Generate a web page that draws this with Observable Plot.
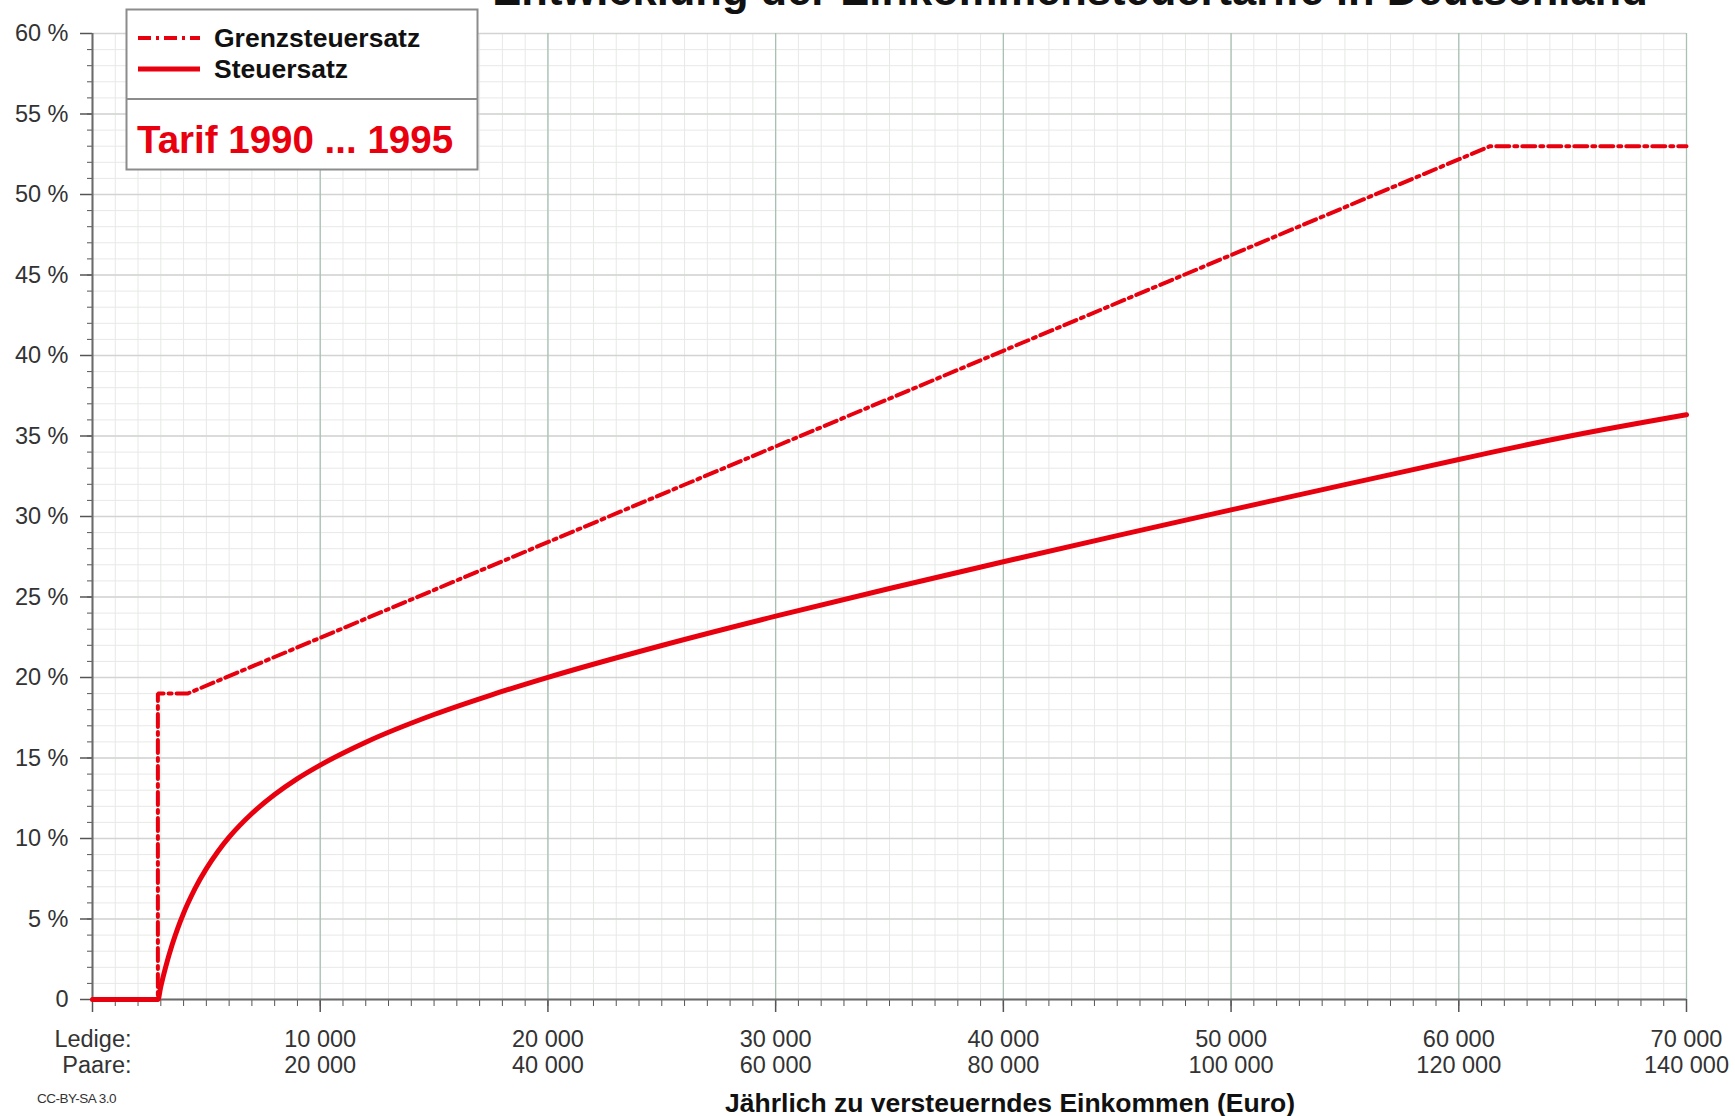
<!DOCTYPE html>
<html>
<head>
<meta charset="utf-8">
<script src="https://cdn.jsdelivr.net/npm/d3@7"></script>
<script src="https://cdn.jsdelivr.net/npm/@observablehq/plot@0.6"></script>
<style>
  html, body { margin: 0; padding: 0; background: #fff; overflow: hidden; }
  #wrap { position: relative; width: 1735px; height: 1116px; font-family: "Liberation Sans", Arial, sans-serif; }
  #wrap > svg.plot { position: absolute; left: 0; top: 0; }
  .ov { position: absolute; white-space: nowrap; }
</style>
</head>
<body>
<div id="wrap"></div>
<script>
// ---- Data (Euro, percent) ----
const titleText = "Entwicklung der Einkommensteuertarife in Deutschland";
const seriesNames = ["Grenzsteuersatz", "Steuersatz"];
const tarifLabel = "Tarif 1990 ... 1995";
const xAxisLabel = "Jährlich zu versteuerndes Einkommen (Euro)";
const zeroTickLabel = "Ledige:\nPaare:";

// Grenzsteuersatz (marginal rate)
const margIncome = [0, 2871, 2871, 4169, 61376, 70000];
const margRate   = [0, 0, 19, 19, 53, 53];

// Steuersatz (average rate)
const avgIncome = [0, 2871, 3000, 3200, 3500, 3750, 4000, 4169, 4500, 5000, 5500, 6000, 7000, 8000, 9000, 10000, 12000, 15000, 17500, 20000, 25000, 30000, 35000, 40000, 45000, 50000, 55000, 60000, 61376, 65000, 70000];
const avgRate   = [0, 0, 0.81, 1.95, 3.41, 4.45, 5.36, 5.91, 6.89, 8.13, 9.18, 10.08, 11.55, 12.73, 13.72, 14.56, 15.98, 17.70, 18.91, 20.01, 21.99, 23.81, 25.53, 27.19, 28.81, 30.41, 31.98, 33.54, 33.97, 35.03, 36.32];

// Tick values (Ledige) and labels
const xTicks = [0, 10000, 20000, 30000, 40000, 50000, 60000, 70000];
const yTicks = [0, 5, 10, 15, 20, 25, 30, 35, 40, 45, 50, 55, 60];

// ---- Build tables ----
const marg = margIncome.map((x, i) => ({x, y: margRate[i]}));
const avg = avgIncome.map((x, i) => ({x, y: avgRate[i]}));

const red = "#e8000e";
const font = "\"Liberation Sans\", Arial, sans-serif";
const sep = n => String(n).replace(/\B(?=(\d{3})+(?!\d))/g, " ");

const minorX = d3.range(0, 70001, 1000);
const minorY = d3.range(0, 61, 1);

const chart = Plot.plot({
  width: 1735,
  height: 1116,
  marginLeft: 92,
  marginRight: 49,
  marginTop: 33,
  marginBottom: 117,
  style: {fontFamily: font, background: "transparent", color: "#333"},
  x: {domain: [0, 70000], label: null},
  y: {domain: [0, 60], label: null},
  marks: [
    Plot.gridX(minorX, {stroke: "#e6e9e6", strokeOpacity: 1, strokeWidth: 1}),
    Plot.gridY(minorY, {stroke: "#e6e9e6", strokeOpacity: 1, strokeWidth: 1}),
    Plot.gridY(yTicks, {stroke: "#d2d4d2", strokeOpacity: 1, strokeWidth: 1.3}),
    Plot.gridX(xTicks, {stroke: "#a9c0b3", strokeOpacity: 1, strokeWidth: 1.3}),
    Plot.axisY(minorY, {label: null, tickSize: 5, tickFormat: () => "", stroke: "#555"}),
    Plot.axisY(yTicks, {label: null, tickSize: 12, tickPadding: 12, stroke: "#555", strokeWidth: 1.5, fontSize: 23.5, fill: "#333",
      tickFormat: d => d === 0 ? "0" : `${d} %`}),
    Plot.axisX(minorX, {label: null, tickSize: 7, tickFormat: () => "", stroke: "#555"}),
    Plot.axisX(xTicks, {label: null, tickSize: 13, tickPadding: 16, stroke: "#555", strokeWidth: 1.5, fontSize: 23.5, fill: "#333", lineHeight: 1.1,
      tickFormat: d => d === 0 ? "" : `${sep(d)}\n${sep(d * 2)}`}),
    Plot.axisX([0], {label: null, tickSize: 0, tickPadding: 29, fontSize: 23.5, fill: "#333", lineHeight: 1.1,
      textAnchor: "end", dx: 39, tickFormat: () => zeroTickLabel}),
    Plot.ruleY([0], {stroke: "#6a6a6a", strokeWidth: 2}),
    Plot.ruleX([0], {stroke: "#6a6a6a", strokeWidth: 2}),
    Plot.line(marg, {x: "x", y: "y", stroke: red, strokeWidth: 4, strokeDasharray: "13,5,3,5", strokeLinejoin: "miter"}),
    Plot.line(avg, {x: "x", y: "y", stroke: red, strokeWidth: 5, curve: "monotone-x"})
  ]
});
chart.classList.add("plot");
const wrap = document.getElementById("wrap");
wrap.appendChild(chart);

// Title (cut off at top as in reference)
const title = document.createElement("div");
title.className = "ov";
title.textContent = titleText;
Object.assign(title.style, {left: "0", width: "2140px", textAlign: "center", top: "-31px", fontSize: "43.5px", lineHeight: "43.5px", fontWeight: "bold", color: "#111"});
wrap.appendChild(title);

// Legend box
const ns = "http://www.w3.org/2000/svg";
const leg = document.createElementNS(ns, "svg");
leg.setAttribute("width", 354); leg.setAttribute("height", 163);
Object.assign(leg.style, {position: "absolute", left: "125px", top: "8px"});
leg.innerHTML = `
  <rect x="1.5" y="1.5" width="351" height="160" fill="#fff" stroke="#8c8c8c" stroke-width="2"/>
  <line x1="1.5" x2="352.5" y1="91" y2="91" stroke="#8c8c8c" stroke-width="2"/>
  <line x1="13" x2="75" y1="30" y2="30" stroke="${red}" stroke-width="4" stroke-dasharray="13,5,3,5"/>
  <line x1="13" x2="75" y1="61" y2="61" stroke="${red}" stroke-width="5"/>
  <text x="89" y="39" font-family='${font}' font-weight="bold" font-size="26.5" fill="#111">${seriesNames[0]}</text>
  <text x="89" y="70" font-family='${font}' font-weight="bold" font-size="26.5" fill="#111">${seriesNames[1]}</text>
  <text x="12" y="145" font-family='${font}' font-weight="bold" font-size="38.5" fill="${red}">${tarifLabel}</text>`;
wrap.appendChild(leg);

// X axis title
const xl = document.createElement("div");
xl.className = "ov";
xl.textContent = xAxisLabel;
Object.assign(xl.style, {left: "0", width: "2020px", textAlign: "center", top: "1088px", fontSize: "26.5px", lineHeight: "30px", fontWeight: "bold", color: "#111"});
wrap.appendChild(xl);

// License note
const cc = document.createElement("div");
cc.className = "ov";
cc.textContent = "CC-BY-SA 3.0";
Object.assign(cc.style, {left: "37px", top: "1091px", fontSize: "13.5px", lineHeight: "16px", letterSpacing: "-0.5px", color: "#333"});
wrap.appendChild(cc);
</script>
</body>
</html>
